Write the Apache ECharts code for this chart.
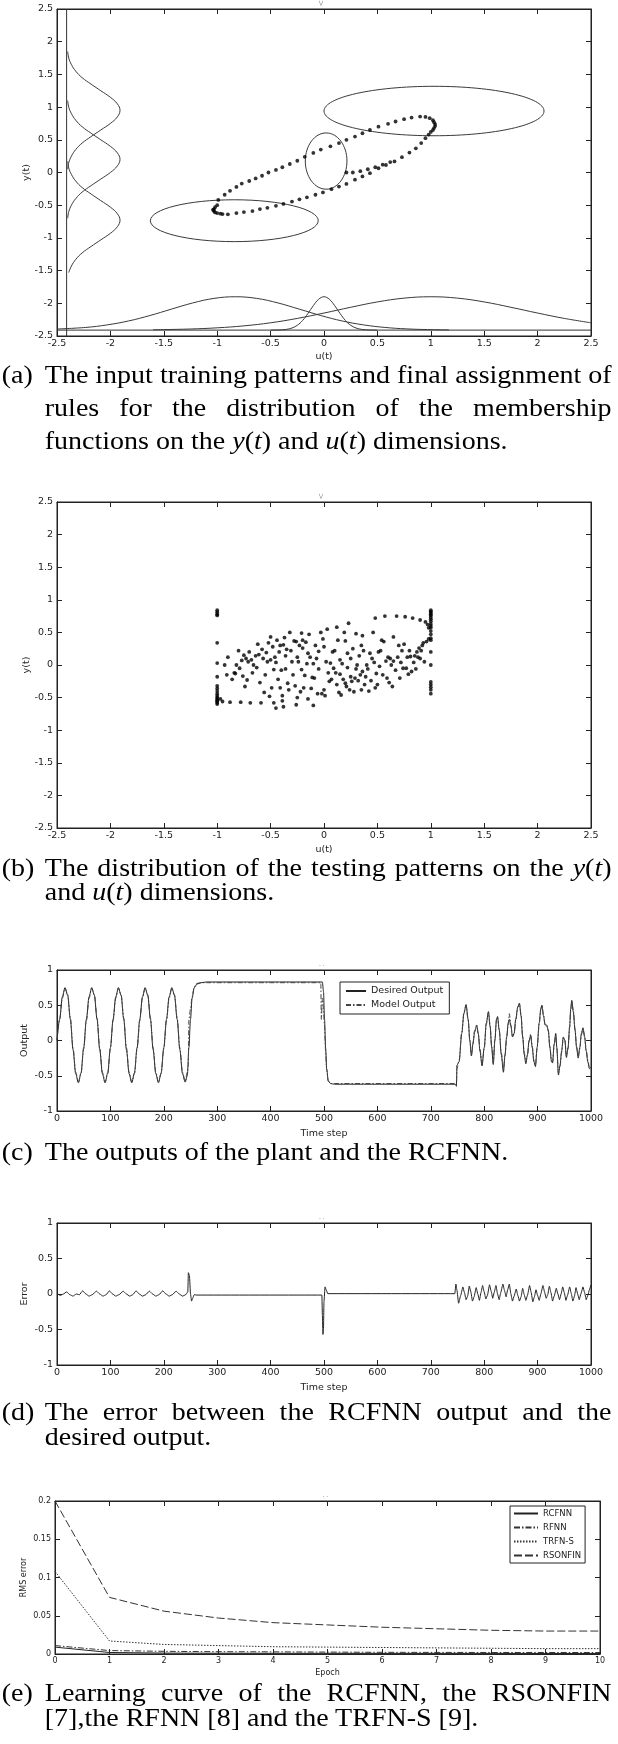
<!DOCTYPE html>
<html>
<head>
<meta charset="utf-8">
<script src="https://cdn.jsdelivr.net/npm/echarts@6/dist/echarts.min.js"></script>
<style>
  html, body { margin: 0; padding: 0; background: #fff; overflow: hidden; }
  #chart { position: absolute; left: 0; top: 0; width: 618px; height: 1744px; }
  .ln { position: absolute; left: 0; width: 552px; height: 25px; transform: scaleX(1.12); transform-origin: 0 0;
        font-family: 'Liberation Serif', serif; font-size: 25px; line-height: 25px; color: #000; white-space: nowrap; }
  .lbl { position: absolute; left: 1.5px; top: 0; }
  .txt { position: absolute; left: 40px; top: 0; width: 506px; }
  .full { text-align: justify; text-align-last: justify; }
</style>
</head>
<body>
<div id="chart"></div>

<!-- captions: each line placed by its baseline (top = baseline - 21) -->
<div class="ln" style="top:362px"><span class="lbl">(a)</span><div class="txt full">The input training patterns and final assignment of</div></div>
<div class="ln" style="top:395px"><div class="txt full">rules for the distribution of the membership</div></div>
<div class="ln" style="top:428px"><div class="txt">functions on the <i>y</i>(<i>t</i>) and <i>u</i>(<i>t</i>) dimensions.</div></div>

<div class="ln" style="top:855px"><span class="lbl">(b)</span><div class="txt full">The distribution of the testing patterns on the <i>y</i>(<i>t</i>)</div></div>
<div class="ln" style="top:879px"><div class="txt">and <i>u</i>(<i>t</i>) dimensions.</div></div>

<div class="ln" style="top:1139px"><span class="lbl">(c)</span><div class="txt">The outputs of the plant and the RCFNN.</div></div>

<div class="ln" style="top:1399px"><span class="lbl">(d)</span><div class="txt full">The error between the RCFNN output and the</div></div>
<div class="ln" style="top:1424px"><div class="txt">desired output.</div></div>

<div class="ln" style="top:1680px"><span class="lbl">(e)</span><div class="txt full">Learning curve of the RCFNN, the RSONFIN</div></div>
<div class="ln" style="top:1705px"><div class="txt">[7],the RFNN [8] and the TRFN-S [9].</div></div>

<script>
// ---- (a) training patterns, rule ellipses, membership functions ----
var trainPts = [
  [-1.0,-0.5],[-1.02,-0.53],[-1.03,-0.56],[-1.03,-0.59],[-1.02,-0.61],[-1.0,-0.62],[-0.97,-0.63],
  [-0.99,-0.42],[-0.93,-0.34],[-0.88,-0.28],[-0.82,-0.22],[-0.77,-0.17],[-0.7,-0.13],[-0.64,-0.09],
  [-0.58,-0.05],[-0.52,0.0],[-0.45,0.04],[-0.39,0.08],[-0.32,0.13],[-0.25,0.18],[-0.18,0.24],
  [-0.1,0.3],[-0.03,0.35],[0.06,0.4],[0.14,0.45],[0.21,0.5],[0.29,0.55],[0.36,0.6],[0.43,0.65],
  [0.51,0.7],[0.6,0.745],[0.67,0.78],[0.75,0.815],[0.82,0.84],[0.9,0.855],[0.95,0.85],[0.99,0.83],
  [1.02,0.8],[1.03,0.77],[1.04,0.74],[1.04,0.71],[1.03,0.68],[1.02,0.65],
  [-1.04,-0.57],[-0.95,-0.635],[-0.9,-0.64],[-0.82,-0.62],[-0.75,-0.605],[-0.67,-0.59],[-0.6,-0.56],
  [-0.53,-0.54],[-0.45,-0.51],[-0.38,-0.48],[-0.3,-0.445],[-0.23,-0.41],[-0.16,-0.38],[-0.08,-0.34],
  [-0.01,-0.305],[0.07,-0.255],[0.14,-0.215],[0.21,-0.175],[0.29,-0.11],[0.36,-0.06],[0.43,-0.01],
  [0.51,0.065],[0.58,0.115],[0.66,0.17],[0.73,0.235],[0.8,0.305],[0.86,0.37],[0.91,0.45],[0.95,0.525],
  [0.98,0.58],[1.0,0.62],
  [0.21,0.0],[0.27,0.0],[0.34,0.02],[0.41,0.05],[0.48,0.08],[0.55,0.12],[0.62,0.16]
];
// rule ellipses: centre u, centre y, half width, half height
var ruleEllipses = [
  [1.03, 0.94, 1.03, 0.378],
  [0.02, 0.175, 0.195, 0.43],
  [-0.84, -0.737, 0.786, 0.32]
];
var mfBaseV = [[-2.41,-2.5],[-2.41,2.5]];
var mfBaseH = [[-2.5,-2.41],[2.5,-2.41]];
var yMfTop = [[-2.40,1.85],[-2.39,1.75],[-2.365,1.65],[-2.325,1.55],[-2.265,1.45],[-2.18,1.35],[-2.09,1.25],[-2.0,1.15],[-1.935,1.05],[-1.91,0.95],[-1.935,0.85],[-2.0,0.75],[-2.09,0.65],[-2.18,0.55],[-2.265,0.45],[-2.325,0.35],[-2.365,0.25],[-2.39,0.15],[-2.40,0.05]];
var yMfMid = [[-2.40,1.1],[-2.39,1.0],[-2.365,0.9],[-2.325,0.8],[-2.265,0.7],[-2.18,0.6],[-2.09,0.5],[-2.0,0.4],[-1.935,0.3],[-1.91,0.2],[-1.935,0.1],[-2.0,0.0],[-2.09,-0.1],[-2.18,-0.2],[-2.265,-0.3],[-2.325,-0.4],[-2.365,-0.5],[-2.39,-0.6],[-2.40,-0.7]];
var yMfLow = [[-2.40,0.17],[-2.39,0.07],[-2.365,-0.03],[-2.325,-0.13],[-2.265,-0.23],[-2.18,-0.33],[-2.09,-0.43],[-2.0,-0.53],[-1.935,-0.63],[-1.91,-0.73],[-1.935,-0.83],[-2.0,-0.93],[-2.09,-1.03],[-2.18,-1.13],[-2.265,-1.23],[-2.325,-1.33],[-2.365,-1.43],[-2.39,-1.53]];
var uMfLeft = [[-2.5,-2.393],[-2.23,-2.369],[-2.03,-2.33],[-1.83,-2.27],[-1.63,-2.187],[-1.43,-2.09],[-1.23,-1.995],[-1.03,-1.925],[-0.83,-1.90],[-0.63,-1.925],[-0.43,-1.995],[-0.23,-2.09],[-0.03,-2.187],[0.17,-2.27],[0.37,-2.33],[0.57,-2.369],[0.77,-2.391],[0.97,-2.402],[1.17,-2.407]];
var uMfMid = [[-0.5,-2.41],[-0.4,-2.406],[-0.35,-2.398],[-0.3,-2.378],[-0.25,-2.336],[-0.2,-2.262],[-0.15,-2.155],[-0.1,-2.036],[-0.05,-1.938],[0,-1.90],[0.05,-1.938],[0.1,-2.036],[0.15,-2.155],[0.2,-2.262],[0.25,-2.336],[0.3,-2.378],[0.35,-2.398],[0.4,-2.406],[0.5,-2.41]];
var uMfRight = [[-1.6,-2.404],[-1.5,-2.402],[-1.25,-2.393],[-1.0,-2.375],[-0.75,-2.345],[-0.5,-2.298],[-0.25,-2.231],[0,-2.149],[0.25,-2.061],[0.5,-1.979],[0.75,-1.921],[1.0,-1.90],[1.25,-1.921],[1.5,-1.979],[1.75,-2.061],[2.0,-2.149],[2.25,-2.231],[2.5,-2.298]];

// ---- (b) testing patterns ----
var testPts = [
  [-1,0.84],[-1,0.81],[-1,0.78],[-1,0.76],[-1,0.34],[-1,0.03],[-1,-0.18],[-1,-0.32],[-1,-0.36],[-1,-0.4],
  [-1,-0.44],[-1,-0.47],[-1,-0.5],[-1,-0.52],[-1,-0.54],[-1,-0.56],[-1,-0.58],[-1,-0.6],
  [1,0.84],[1,0.82],[1,0.8],[1,0.78],[1,0.76],[1,0.73],[1,0.7],[1,0.67],[1,0.63],[1,0.6],[1,0.57],
  [1,0.52],[1,0.47],[1,0.41],[1,0.38],[1,0.2],[1,0.0],[1,-0.26],[1,-0.3],[1,-0.34],[1,-0.38],[1,-0.44],
  [0.97,0.62],[0.98,0.57],[0.98,0.4],[0.96,0.36],
  [-0.97,-0.52],[-0.95,-0.56],[-0.93,0.0],[-0.91,-0.15],[-0.9,0.12],[-0.88,-0.57],[-0.86,-0.22],
  [-0.84,-0.12],[-0.83,-0.13],[-0.82,0.0],[-0.8,0.22],[-0.79,-0.05],[-0.78,-0.57],[-0.77,0.07],[-0.76,-0.17],[-0.75,0.15],
  [-0.74,-0.33],[-0.73,0.1],[-0.72,-0.23],[-0.71,0.05],[-0.7,0.2],[-0.69,-0.58],[-0.68,0.08],[-0.67,-0.12],[-0.66,0.0],
  [-0.64,0.14],[-0.63,-0.04],[-0.62,0.32],[-0.61,0.16],[-0.6,-0.27],[-0.59,-0.58],[-0.58,0.24],[-0.57,0.1],[-0.56,-0.42],[-0.55,-0.15],
  [-0.54,0.19],[-0.53,0.05],[-0.52,0.34],[-0.51,-0.48],[-0.5,0.43],[-0.5,0.08],[-0.49,-0.35],[-0.48,0.28],[-0.47,-0.07],[-0.47,-0.58],[-0.46,0.12],[-0.45,-0.66],[-0.45,0.04],
  [-0.44,0.38],[-0.43,-0.22],[-0.42,0.2],[-0.41,-0.35],[-0.41,0.3],[-0.4,-0.08],[-0.39,-0.47],[-0.39,-0.55],[-0.38,0.31],[-0.38,-0.64],[-0.37,0.42],[-0.36,0.14],[-0.36,-0.06],[-0.35,0.24],
  [-0.34,-0.28],[-0.33,-0.38],[-0.32,0.5],[-0.31,0.22],[-0.3,0.05],[-0.29,-0.15],[-0.28,0.37],[-0.27,-0.32],[-0.26,-0.61],[-0.26,0.36],[-0.25,0.12],[-0.25,-0.5],
  [-0.24,0.05],[-0.23,0.3],[-0.22,-0.41],[-0.21,0.49],[-0.21,-0.07],[-0.2,0.26],[-0.2,0.38],[-0.19,-0.35],[-0.18,-0.16],[-0.17,0.35],[-0.16,0.02],[-0.15,-0.52],[-0.15,0.18],
  [-0.14,0.47],[-0.13,0.12],[-0.12,-0.36],[-0.11,-0.19],[-0.1,-0.62],[-0.1,0.02],[-0.09,-0.2],[-0.08,0.3],[-0.07,0.1],[-0.06,-0.44],[-0.05,0.21],[-0.05,-0.06],
  [-0.03,0.5],[-0.02,-0.44],[-0.01,0.4],[0.0,-0.38],[0.0,0.28],[0.01,-0.47],[0.02,0.05],[0.03,0.55],[0.04,-0.12],[0.05,-0.25],
  [0.06,0.03],[0.07,-0.22],[0.08,0.2],[0.09,-0.05],[0.1,0.22],[0.11,-0.12],[0.12,0.58],[0.12,-0.3],[0.13,0.38],[0.14,-0.42],[0.15,0.08],[0.15,-0.14],
  [0.16,-0.46],[0.17,0.02],[0.18,-0.22],[0.19,0.5],[0.2,0.37],[0.2,-0.28],[0.21,-0.33],[0.22,0.18],[0.22,-0.04],[0.23,0.64],[0.24,-0.38],[0.25,0.1],[0.25,-0.18],
  [0.26,-0.25],[0.27,0.25],[0.28,-0.41],[0.29,-0.2],[0.3,0.48],[0.3,-0.06],[0.31,0.0],[0.32,-0.24],[0.33,0.14],[0.34,-0.15],[0.35,-0.38],[0.35,0.3],
  [0.36,0.45],[0.36,-0.1],[0.37,0.22],[0.38,-0.3],[0.39,-0.18],[0.4,0.0],[0.41,-0.06],[0.42,-0.4],[0.43,0.18],[0.44,-0.24],[0.45,0.1],
  [0.46,0.5],[0.47,0.04],[0.48,-0.35],[0.48,0.72],[0.49,-0.13],[0.5,-0.3],[0.51,0.2],[0.52,-0.02],[0.53,0.22],[0.54,0.38],[0.55,-0.15],
  [0.56,0.36],[0.57,0.75],[0.58,0.06],[0.59,-0.2],[0.6,0.12],[0.61,-0.27],[0.62,0.1],[0.63,0.0],[0.64,-0.33],[0.65,0.43],[0.65,0.06],
  [0.67,-0.08],[0.68,0.75],[0.69,0.12],[0.7,0.3],[0.71,-0.2],[0.72,0.04],[0.73,0.22],[0.74,-0.05],[0.75,0.32],
  [0.76,0.74],[0.77,-0.05],[0.78,0.12],[0.79,-0.14],[0.8,0.22],[0.81,0.13],[0.82,-0.1],[0.83,0.72],[0.84,0.04],[0.85,0.14],
  [0.86,-0.06],[0.87,0.2],[0.88,0.12],[0.89,0.26],[0.9,0.69],[0.9,0.1],[0.91,0.22],[0.92,0.3],[0.93,0.34],[0.94,0.05],[0.95,0.66]
];

// ---- (c) plant output and model output, [time step, value] ----
var desiredOut = [
  [0,0],[5,0.3],[10,0.62],[15,0.75],[20,0.64],[25,0.3],[30,-0.13],[35,-0.47],[40,-0.6],[45,-0.46],
  [50,-0.1],[55,0.3],[60,0.62],[65,0.75],[70,0.64],[75,0.3],[80,-0.13],[85,-0.47],[90,-0.6],[95,-0.46],
  [100,-0.1],[105,0.3],[110,0.62],[115,0.75],[120,0.64],[125,0.3],[130,-0.13],[135,-0.47],[140,-0.6],[145,-0.46],
  [150,-0.1],[155,0.3],[160,0.62],[165,0.75],[170,0.64],[175,0.3],[180,-0.13],[185,-0.47],[190,-0.6],[195,-0.46],
  [200,-0.1],[205,0.3],[210,0.62],[215,0.75],[220,0.64],[225,0.3],[230,-0.13],[235,-0.47],[240,-0.59],[244,-0.5],
  [247,-0.1],[250,0.3],[253,0.6],[257,0.75],[262,0.8],[270,0.82],[280,0.83],[497,0.83],
  [499,0.7],[501,0.3],[503,-0.1],[505,-0.4],[508,-0.57],[512,-0.61],[520,-0.62],[746,-0.62],
  [748,-0.65],[749,-0.35],[753,-0.3],[758,0.1],[762,0.38],[766,0.51],[770,0.3],[773,0.0],[776,-0.22],
  [779,-0.05],[782,0.12],[786,0.22],[789,0.1],[792,-0.15],[796,-0.36],[800,-0.1],[804,0.25],[808,0.41],
  [811,0.2],[814,-0.1],[817,-0.34],[820,0.0],[823,0.3],[825,0.34],[828,0.15],[832,-0.2],[836,-0.45],
  [839,-0.2],[842,0.05],[845,0.25],[847,0.3],[850,0.2],[853,0.05],[856,0.1],[859,0.3],[863,0.48],
  [866,0.53],[869,0.35],[872,0.05],[875,-0.2],[878,-0.33],[881,-0.2],[884,0.0],[887,0.07],[890,-0.1],
  [893,-0.3],[896,-0.37],[899,-0.1],[903,0.25],[906,0.45],[908,0.5],[911,0.35],[914,0.22],[917,0.22],
  [920,0.15],[923,-0.1],[926,-0.3],[928,-0.32],[931,-0.05],[934,0.1],[936,-0.1],[939,-0.49],[942,-0.35],
  [945,-0.15],[948,0.05],[951,0.0],[954,-0.24],[957,-0.1],[960,0.2],[962,0.45],[964,0.57],[967,0.4],
  [970,0.15],[973,-0.1],[976,-0.25],[979,-0.1],[982,0.1],[985,0.18],[988,0.05],[991,-0.15],[994,-0.3],
  [997,-0.4],[1000,-0.38]
];
var modelOut = [
  [0,0.01],[5,0.31],[10,0.6],[15,0.74],[20,0.65],[25,0.32],[30,-0.1],[35,-0.45],[40,-0.59],[45,-0.47],
  [50,-0.12],[55,0.28],[60,0.6],[65,0.74],[70,0.65],[75,0.32],[80,-0.1],[85,-0.45],[90,-0.59],[95,-0.47],
  [100,-0.12],[105,0.28],[110,0.6],[115,0.74],[120,0.65],[125,0.32],[130,-0.1],[135,-0.45],[140,-0.59],[145,-0.47],
  [150,-0.12],[155,0.28],[160,0.6],[165,0.74],[170,0.65],[175,0.32],[180,-0.1],[185,-0.45],[190,-0.59],[195,-0.47],
  [200,-0.12],[205,0.28],[210,0.6],[215,0.74],[220,0.65],[225,0.32],[230,-0.1],[235,-0.45],[240,-0.58],[244,-0.45],
  [246,-0.35],[247,0.3],[250,0.45],[253,0.62],[257,0.76],[262,0.81],[270,0.82],[280,0.82],[494,0.82],
  [495,0.3],[497,0.6],[499,0.45],[501,0.2],[503,-0.15],[505,-0.42],[508,-0.58],[512,-0.61],[520,-0.61],[746,-0.61],
  [748,-0.62],[749,-0.4],[753,-0.28],[758,0.12],[762,0.4],[766,0.5],[770,0.28],[773,0.02],[776,-0.2],
  [779,-0.03],[782,0.14],[786,0.2],[789,0.08],[792,-0.12],[796,-0.33],[800,-0.12],[804,0.23],[808,0.4],
  [811,0.22],[814,-0.07],[817,-0.32],[820,0.02],[823,0.28],[825,0.33],[828,0.17],[832,-0.17],[836,-0.42],
  [839,-0.22],[842,0.03],[845,0.22],[847,0.38],[850,0.22],[853,0.06],[856,0.08],[859,0.28],[863,0.47],
  [866,0.52],[869,0.37],[872,0.07],[875,-0.17],[878,-0.31],[881,-0.22],[884,-0.02],[887,0.09],[890,-0.08],
  [893,-0.28],[896,-0.35],[899,-0.12],[903,0.23],[906,0.44],[908,0.5],[911,0.37],[914,0.23],[917,0.2],
  [920,0.13],[923,-0.08],[926,-0.28],[928,-0.3],[931,-0.07],[934,0.08],[936,-0.12],[939,-0.46],[942,-0.37],
  [945,-0.17],[948,0.03],[951,0.02],[954,-0.22],[957,-0.12],[960,0.18],[962,0.43],[964,0.55],[967,0.42],
  [970,0.17],[973,-0.08],[976,-0.23],[979,-0.12],[982,0.08],[985,0.17],[988,0.07],[991,-0.13],[994,-0.28],
  [997,-0.38],[1000,-0.4]
];

// ---- (d) error, [time step, value] ----
var errorOut = [
  [0,0.01],[6,-0.02],[12,0.0],[18,0.03],[24,-0.01],[30,-0.03],[36,0.0],[42,-0.01],[48,0.045],[54,0.0],
  [60,-0.03],[66,-0.01],[74,0.04],[80,0.0],[86,-0.03],[92,-0.01],[98,0.045],[104,0.0],[110,-0.03],[116,-0.01],
  [124,0.04],[130,0.0],[136,-0.03],[142,-0.01],[148,0.045],[154,0.0],[160,-0.03],[166,-0.01],[173,0.04],[179,0.0],
  [185,-0.03],[191,-0.01],[198,0.045],[204,0.0],[210,-0.03],[216,-0.01],[223,0.04],[229,0.0],[235,-0.03],[241,-0.01],
  [245,0.03],[246,0.3],[248,0.26],[250,0.0],[252,-0.1],[254,-0.06],[257,-0.01],[262,-0.015],[496,-0.015],
  [497,-0.3],[498,-0.57],[499,-0.5],[500,-0.1],[502,0.1],[504,0.06],[507,0.005],[745,0.005],
  [747,0.14],[749,0.05],[752,-0.13],[756,-0.02],[760,0.1],[763,0.02],[766,-0.08],[769,-0.03],[772,0.11],
  [775,0.03],[778,-0.1],[781,-0.04],[785,0.09],[788,0.0],[791,-0.09],[794,0.02],[797,0.12],[800,0.03],
  [803,-0.07],[806,-0.02],[810,0.13],[813,0.04],[816,-0.06],[819,0.03],[822,0.12],[825,0.0],[828,-0.08],
  [831,0.02],[835,0.14],[838,0.05],[841,-0.04],[844,0.06],[847,0.14],[850,0.0],[853,-0.1],[856,-0.03],
  [860,0.07],[863,-0.02],[866,-0.1],[869,-0.04],[872,0.08],[875,-0.01],[878,-0.09],[881,-0.02],[885,0.12],
  [888,0.02],[891,-0.11],[894,-0.04],[897,0.06],[900,-0.02],[903,-0.09],[906,0.0],[910,0.12],[913,0.03],
  [916,-0.06],[919,-0.01],[922,0.11],[925,0.02],[928,-0.1],[931,-0.03],[935,0.08],[938,0.0],[941,-0.08],
  [944,0.0],[947,0.1],[950,0.02],[953,-0.09],[956,-0.02],[960,0.1],[963,0.01],[966,-0.1],[969,-0.03],
  [972,0.09],[975,0.0],[978,-0.08],[981,0.0],[985,0.1],[988,0.02],[991,-0.08],[994,-0.02],[997,0.06],[1000,0.13]
];

// ---- (e) learning curves ----
var epochs     = [0, 1, 2, 3, 4, 5, 6, 7, 8, 9, 10];
var rcfnnErr   = [0.009, 0.002, 0.0012, 0.001, 0.0009, 0.0009, 0.0008, 0.0008, 0.0008, 0.0007, 0.0007];
var rfnnErr    = [0.011, 0.0045, 0.0035, 0.003, 0.0028, 0.0025, 0.0022, 0.0021, 0.002, 0.002, 0.0019];
var trfnsErr   = [0.108, 0.017, 0.0125, 0.011, 0.0095, 0.009, 0.0085, 0.008, 0.0075, 0.007, 0.007];
var rsonfinErr = [0.2, 0.074, 0.056, 0.047, 0.041, 0.038, 0.035, 0.033, 0.031, 0.03, 0.03];

var FONT = 'DejaVu Sans';
var INK = '#222';

var grids = [
  { left: 57, top: 9, width: 534, height: 327 },
  { left: 57, top: 502, width: 534, height: 326 },
  { left: 57, top: 970, width: 534, height: 141 },
  { left: 57, top: 1223, width: 534, height: 142 },
  { left: 55, top: 1501, width: 545, height: 153 }
];
// min, max, interval, name, nameGap, font size
var xCfg = [
  [-2.5, 2.5, 0.5, 'u(t)', 16, 9.5],
  [-2.5, 2.5, 0.5, 'u(t)', 17, 9.5],
  [0, 1000, 100, 'Time step', 17.5, 9.5],
  [0, 1000, 100, 'Time step', 17.5, 9.5],
  [0, 10, 1, 'Epoch', 15, 8]
];
var yCfg = [
  [-2.5, 2.5, 0.5, 'y(t)', 25, 9.5],
  [-2.5, 2.5, 0.5, 'y(t)', 25, 9.5],
  [-1, 1, 0.5, 'Output', 27.5, 9.5],
  [-1, 1, 0.5, 'Error', 27.5, 9.5],
  [0, 0.2, 0.05, 'RMS error', 27, 8]
];
// little title remnants above each axes box
var topMarks = ['\\/', '\\/', '. .', '. .', '. .'];

var xAxes = [], yAxes = [], titles = [];
grids.forEach(function (g, i) {
  g.show = true;
  g.borderColor = INK;
  g.borderWidth = 1;
  var xc = xCfg[i], yc = yCfg[i];
  ['bottom', 'top'].forEach(function (pos, k) {
    xAxes.push({
      gridIndex: i, type: 'value', position: pos,
      min: xc[0], max: xc[1], interval: xc[2],
      name: k === 0 ? xc[3] : '', nameLocation: 'middle', nameGap: xc[4], nameMoveOverlap: false,
      nameTextStyle: { fontFamily: FONT, fontSize: xc[5], color: INK },
      axisLine: { show: true, onZero: false, lineStyle: { color: INK, width: 1 } },
      axisTick: { show: true, inside: true, length: 5, lineStyle: { color: INK } },
      axisLabel: { show: k === 0, fontFamily: FONT, fontSize: xc[5], color: INK, margin: 3,
                   formatter: function (v) { return String(v); } },
      splitLine: { show: false }
    });
  });
  ['left', 'right'].forEach(function (pos, k) {
    yAxes.push({
      gridIndex: i, type: 'value', position: pos,
      min: yc[0], max: yc[1], interval: yc[2],
      name: k === 0 ? yc[3] : '', nameLocation: 'middle', nameGap: yc[4], nameMoveOverlap: false,
      nameTextStyle: { fontFamily: FONT, fontSize: yc[5], color: INK },
      axisLine: { show: true, onZero: false, lineStyle: { color: INK, width: 1 } },
      axisTick: { show: true, inside: true, length: 5, lineStyle: { color: INK } },
      axisLabel: { show: k === 0, fontFamily: FONT, fontSize: yc[5], color: INK, margin: 4,
                   formatter: function (v) { return String(v); } },
      splitLine: { show: false }
    });
  });
  titles.push({
    text: topMarks[i], left: g.left + g.width / 2 - 5, top: g.top - 9, padding: 0,
    textStyle: { fontFamily: FONT, fontSize: 6, fontWeight: 'normal', color: '#777' }
  });
});

function curve(gi, data, opt) {
  opt = opt || {};
  return {
    type: 'line', xAxisIndex: gi * 2, yAxisIndex: gi * 2, name: opt.name,
    data: data, showSymbol: false, symbol: 'none', smooth: opt.smooth || false,
    smoothMonotone: opt.mono, clip: true, silent: true,
    lineStyle: { color: opt.color || '#333', width: opt.width || 1, type: opt.type || 'solid' },
    itemStyle: { color: opt.color || '#333' }
  };
}

var series = [
  curve(0, mfBaseV, { color: '#333' }),
  curve(0, mfBaseH, { color: '#333' }),
  curve(0, yMfTop, { smooth: 0.4, color: '#3a3a3a' }),
  curve(0, yMfMid, { smooth: 0.4, color: '#3a3a3a' }),
  curve(0, yMfLow, { smooth: 0.4, color: '#3a3a3a' }),
  curve(0, uMfLeft, { smooth: 0.4, color: '#3a3a3a' }),
  curve(0, uMfMid, { smooth: 0.4, color: '#3a3a3a' }),
  curve(0, uMfRight, { smooth: 0.4, color: '#3a3a3a' }),
  {
    type: 'custom', xAxisIndex: 0, yAxisIndex: 0, silent: true,
    data: ruleEllipses, encode: { x: 0, y: 1 },
    renderItem: function (params, api) {
      var c = api.coord([api.value(0), api.value(1)]);
      var s = api.size([api.value(2), api.value(3)]);
      return {
        type: 'ellipse',
        shape: { cx: c[0], cy: c[1], rx: s[0], ry: s[1] },
        style: { fill: 'none', stroke: '#3a3a3a', lineWidth: 1 }
      };
    }
  },
  {
    type: 'scatter', xAxisIndex: 0, yAxisIndex: 0, data: trainPts, silent: true,
    symbol: 'circle', symbolSize: 3.8, itemStyle: { color: '#000' }
  },
  {
    type: 'scatter', xAxisIndex: 2, yAxisIndex: 2, data: testPts, silent: true,
    symbol: 'circle', symbolSize: 3.8, itemStyle: { color: '#000' }
  },
  curve(2, desiredOut, { name: 'Desired Output', smooth: 0.3, mono: 'x', color: '#222' }),
  curve(2, modelOut, { name: 'Model Output', smooth: 0.3, mono: 'x', color: '#444', type: [5, 2, 1.5, 2] }),
  curve(3, errorOut, { smooth: 0.15, mono: 'x', color: '#222' }),
  curve(4, epochs.map(function (e, i) { return [e, rcfnnErr[i]]; }), { name: 'RCFNN', color: '#222' }),
  curve(4, epochs.map(function (e, i) { return [e, rfnnErr[i]]; }), { name: 'RFNN', color: '#333', type: [6, 2, 1.5, 2] }),
  curve(4, epochs.map(function (e, i) { return [e, trfnsErr[i]]; }), { name: 'TRFN-S', color: '#333', type: [1.5, 1.5] }),
  curve(4, epochs.map(function (e, i) { return [e, rsonfinErr[i]]; }), { name: 'RSONFIN', color: '#333', type: [8, 3] })
];

var legendBase = {
  orient: 'vertical', selectedMode: false, backgroundColor: '#fff',
  borderColor: INK, borderWidth: 1, borderRadius: 0,
  itemStyle: { opacity: 0 }
};
var chart = echarts.init(document.getElementById('chart'), null, { renderer: 'canvas' });
chart.setOption({
  animation: false,
  backgroundColor: '#fff',
  title: titles,
  grid: grids,
  xAxis: xAxes,
  yAxis: yAxes,
  legend: [
    Object.assign({}, legendBase, {
      data: ['Desired Output', 'Model Output'], left: 340, top: 982,
      padding: [4, 6, 4, 5], itemGap: 4, itemWidth: 20, itemHeight: 9,
      textStyle: { fontFamily: FONT, fontSize: 9.5, color: INK }
    }),
    Object.assign({}, legendBase, {
      data: ['RCFNN', 'RFNN', 'TRFN-S', 'RSONFIN'], left: 510, top: 1506,
      padding: [3, 4, 3, 3], itemGap: 5, itemWidth: 24, itemHeight: 8,
      textStyle: { fontFamily: FONT, fontSize: 8.5, color: INK }
    })
  ],
  series: series
});
</script>
</body>
</html>
